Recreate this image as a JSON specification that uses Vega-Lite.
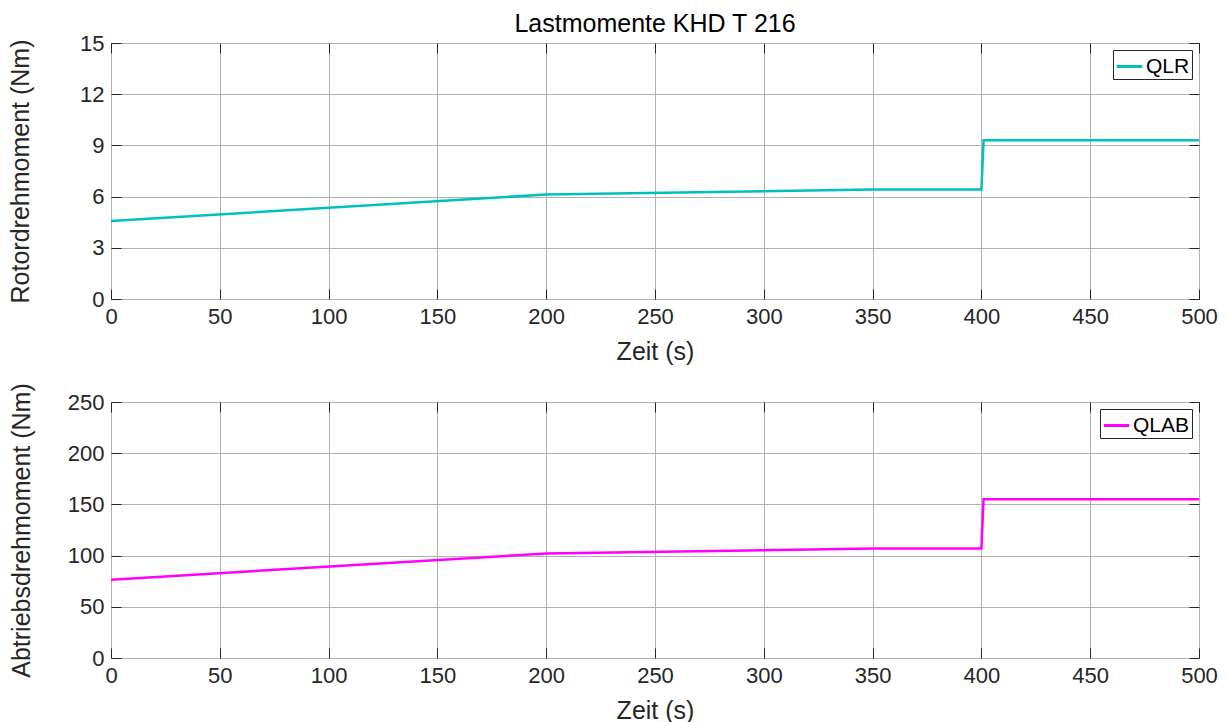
{
  "$schema": "https://vega.github.io/schema/vega-lite/v6.json",
  "padding": {"left": 8, "top": 11, "right": 5, "bottom": 0},
  "background": "white",
  "config": {
    "font": "Liberation Sans",
    "view": {"stroke": "#262626", "strokeWidth": 1},
    "axis": {
      "labelFont": "Liberation Sans",
      "titleFont": "Liberation Sans",
      "labelFontSize": 22,
      "titleFontSize": 25,
      "labelColor": "#262626",
      "titleColor": "#262626",
      "titleFontWeight": "normal",
      "domain": false,
      "tickColor": "#262626",
      "tickSize": -10,
      "gridColor": "#b0b0b0",
      "gridWidth": 1,
      "labelPadding": 17,
      "labelFlush": false
    },
    "legend": {
      "labelFont": "Liberation Sans",
      "labelFontSize": 21,
      "labelColor": "#000000",
      "strokeColor": "#262626",
      "fillColor": "white",
      "padding": 2,
      "offset": 7,
      "symbolType": "stroke",
      "symbolStrokeWidth": 3,
      "symbolSize": 650,
      "title": null,
      "orient": "top-right",
      "labelOffset": 2
    }
  },
  "datasets": {
    "qlr": [
      {"t": 0, "v": 4.57, "s": "QLR"},
      {"t": 200, "v": 6.12, "s": "QLR"},
      {"t": 350, "v": 6.42, "s": "QLR"},
      {"t": 400, "v": 6.42, "s": "QLR"},
      {"t": 401, "v": 9.3, "s": "QLR"},
      {"t": 500, "v": 9.3, "s": "QLR"}
    ],
    "qlab": [
      {"t": 0, "v": 76.5, "s": "QLAB"},
      {"t": 200, "v": 102, "s": "QLAB"},
      {"t": 350, "v": 107, "s": "QLAB"},
      {"t": 400, "v": 107, "s": "QLAB"},
      {"t": 401, "v": 155, "s": "QLAB"},
      {"t": 500, "v": 155, "s": "QLAB"}
    ]
  },
  "vconcat": [
    {
      "width": 1088,
      "height": 256,
      "title": {"text": "Lastmomente KHD T 216", "font": "Liberation Sans", "fontSize": 25, "fontWeight": "normal", "color": "#000000", "offset": -25, "baseline": "alphabetic"},
      "data": {"name": "qlr"},
      "layer": [
        {
          "mark": {"type": "line", "strokeWidth": 2.5, "clip": true},
          "encoding": {
            "x": {"field": "t", "type": "quantitative", "scale": {"domain": [0, 500], "nice": false}, "axis": {"values": [0,50,100,150,200,250,300,350,400,450,500], "title": "Zeit (s)", "titlePadding": 12}},
            "y": {"field": "v", "type": "quantitative", "scale": {"domain": [0, 15], "nice": false}, "axis": {"values": [0,3,6,9,12,15], "title": "Rotordrehmoment (Nm)", "titlePadding": 46}},
            "color": {"field": "s", "type": "nominal", "scale": {"domain": ["QLR"], "range": ["#00bfbf"]}}
          }
        },
        {
          "mark": {"type": "line", "opacity": 0},
          "encoding": {
            "x": {"field": "t", "type": "quantitative", "axis": {"orient": "top", "values": [0,50,100,150,200,250,300,350,400,450,500], "labels": false, "grid": false, "title": null, "minExtent": 0, "maxExtent": 0, "labelPadding": 0}},
            "y": {"field": "v", "type": "quantitative", "axis": {"orient": "right", "values": [0,3,6,9,12,15], "labels": false, "grid": false, "title": null, "minExtent": 0, "maxExtent": 0, "labelPadding": 0}}
          }
        }
      ],
      "resolve": {"axis": {"x": "independent", "y": "independent"}}
    },
    {
      "width": 1088,
      "height": 256,
      "data": {"name": "qlab"},
      "layer": [
        {
          "mark": {"type": "line", "strokeWidth": 2.5, "clip": true},
          "encoding": {
            "x": {"field": "t", "type": "quantitative", "scale": {"domain": [0, 500], "nice": false}, "axis": {"values": [0,50,100,150,200,250,300,350,400,450,500], "title": "Zeit (s)", "titlePadding": 12}},
            "y": {"field": "v", "type": "quantitative", "scale": {"domain": [0, 250], "nice": false}, "axis": {"values": [0,50,100,150,200,250], "title": "Abtriebsdrehmoment (Nm)", "titlePadding": 33}},
            "color": {"field": "s", "type": "nominal", "scale": {"domain": ["QLAB"], "range": ["#ff00ff"]}}
          }
        },
        {
          "mark": {"type": "line", "opacity": 0},
          "encoding": {
            "x": {"field": "t", "type": "quantitative", "axis": {"orient": "top", "values": [0,50,100,150,200,250,300,350,400,450,500], "labels": false, "grid": false, "title": null, "minExtent": 0, "maxExtent": 0, "labelPadding": 0}},
            "y": {"field": "v", "type": "quantitative", "axis": {"orient": "right", "values": [0,50,100,150,200,250], "labels": false, "grid": false, "title": null, "minExtent": 0, "maxExtent": 0, "labelPadding": 0}}
          }
        }
      ],
      "resolve": {"axis": {"x": "independent", "y": "independent"}}
    }
  ],
  "resolve": {"scale": {"color": "independent"}, "legend": {"color": "independent"}},
  "spacing": 103,
  "bounds": "flush"
}
